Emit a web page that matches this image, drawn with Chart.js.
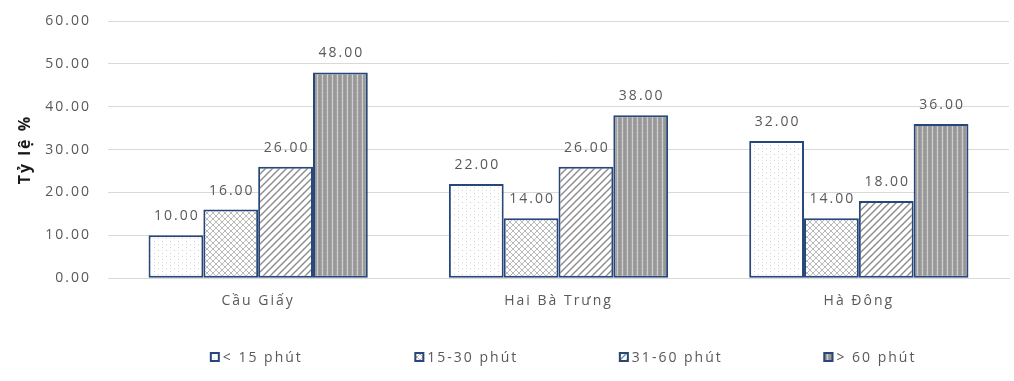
<!DOCTYPE html>
<html>
<head>
<meta charset="utf-8">
<script src="https://cdn.jsdelivr.net/npm/chart.js@4.4.1/dist/chart.umd.min.js"></script>
<style>
  html, body { margin: 0; padding: 0; background: #ffffff; }
  #wrap { width: 1014px; height: 381px; }
</style>
</head>
<body>
<div id="wrap"><canvas id="chart" width="1014" height="381"></canvas></div>
<script>
// Commute time shares by district (%)
const districts = ['Cầu Giấy', 'Hai Bà Trưng', 'Hà Đông'];
const seriesNames = ['< 15 phút', '15-30 phút', '31-60 phút', '> 60 phút'];
const under15 = [10, 22, 32];
const from15to30 = [16, 14, 14];
const from31to60 = [26, 26, 18];
const over60 = [48, 38, 36];
const yTickValues = [0, 10, 20, 30, 40, 50, 60];
const yAxisTitle = 'Tỷ lệ %';

const TEXT_FONT = '"Open Sans", "Noto Sans", sans-serif';
const TEXT_COLOR = '#595959';
const LETTER_SPACING = '2px';
const BAR_EDGE = '#27467a';

// ---- hatch fills -------------------------------------------------------
function makeTile(w, h, paint) {
  const c = document.createElement('canvas');
  c.width = w; c.height = h;
  const g = c.getContext('2d');
  g.fillStyle = '#ffffff';
  g.fillRect(0, 0, w, h);
  paint(g, w, h);
  return document.getElementById('chart').getContext('2d').createPattern(c, 'repeat');
}

// sparse dots
const dotFill = makeTile(8, 6, (g) => {
  g.fillStyle = '#cfcfcf';
  g.fillRect(2, 1, 1, 1);
  g.fillRect(6, 4, 1, 1);
  g.fillStyle = '#e6e6e6';
  g.fillRect(2, 4, 1, 1);
});

// diamond lattice
const latticeFill = makeTile(6, 6, (g) => {
  g.strokeStyle = '#b8b8b8';
  g.lineWidth = 1;
  g.beginPath();
  g.moveTo(0, 0); g.lineTo(6, 6);
  g.moveTo(6, 0); g.lineTo(0, 6);
  g.stroke();
});

// forward diagonal stripes
const diagonalFill = makeTile(7, 7, (g) => {
  g.strokeStyle = '#8a8a8a';
  g.lineWidth = 1.4;
  g.beginPath();
  g.moveTo(-1, 8); g.lineTo(8, -1);
  g.moveTo(-1, 1); g.lineTo(1, -1);
  g.moveTo(6, 8); g.lineTo(8, 6);
  g.stroke();
});

// vertical stripes
const verticalFill = makeTile(5, 4, (g) => {
  const cols = ['#999999', '#a3a3a3', '#d2d2d2', '#a0a0a0', '#969696'];
  cols.forEach((c, i) => { g.fillStyle = c; g.fillRect(i, 0, 1, 4); });
  g.fillStyle = '#c0c0c0';
  g.fillRect(2, 2, 1, 1);
});

const fills = [dotFill, latticeFill, diagonalFill, verticalFill];
const seriesValues = [under15, from15to30, from31to60, over60];

// ---- plugins -----------------------------------------------------------
const textSpacing = {
  id: 'textSpacing',
  beforeUpdate(chart) { chart.ctx.letterSpacing = LETTER_SPACING; },
  beforeDraw(chart) { chart.ctx.letterSpacing = LETTER_SPACING; }
};

const valueLabels = {
  id: 'valueLabels',
  afterDatasetsDraw(chart) {
    const ctx = chart.ctx;
    ctx.save();
    ctx.letterSpacing = LETTER_SPACING;
    ctx.font = '14px ' + TEXT_FONT;
    ctx.fillStyle = TEXT_COLOR;
    ctx.textAlign = 'center';
    ctx.textBaseline = 'alphabetic';
    chart.data.datasets.forEach((ds, i) => {
      chart.getDatasetMeta(i).data.forEach((bar, j) => {
        ctx.fillText(ds.data[j].toFixed(2), bar.x + 1, bar.y - 15);
      });
    });
    ctx.restore();
  }
};

const bottomLegend = {
  id: 'bottomLegend',
  afterDraw(chart) {
    const ctx = chart.ctx;
    const a = chart.chartArea;
    const y = chart.height - 24;
    const start = a.left + a.width * 0.113;
    const pitch = a.width * 0.227;
    ctx.save();
    ctx.letterSpacing = LETTER_SPACING;
    ctx.font = '14px ' + TEXT_FONT;
    ctx.textBaseline = 'middle';
    ctx.textAlign = 'left';
    chart.data.datasets.forEach((ds, i) => {
      const x = start + pitch * i;
      ctx.fillStyle = ds.backgroundColor;
      ctx.fillRect(x, y - 5, 10, 10);
      ctx.strokeStyle = BAR_EDGE;
      ctx.lineWidth = 2;
      ctx.strokeRect(x + 1, y - 4, 8, 8);
      ctx.fillStyle = TEXT_COLOR;
      ctx.fillText(ds.label, x + 13, y + 1);
    });
    ctx.restore();
  }
};

// ---- chart -------------------------------------------------------------
new Chart(document.getElementById('chart'), {
  type: 'bar',
  data: {
    labels: districts,
    datasets: seriesNames.map((name, i) => ({
      label: name,
      data: seriesValues[i],
      backgroundColor: fills[i],
      borderColor: BAR_EDGE,
      borderWidth: 2,
      borderSkipped: false,
      barPercentage: 1.0,
      categoryPercentage: 0.73
    }))
  },
  options: {
    responsive: false,
    animation: false,
    layout: { padding: { top: 21, right: 5, bottom: 58, left: 16 } },
    plugins: {
      legend: { display: false },
      tooltip: { enabled: false }
    },
    scales: {
      x: {
        grid: { display: false, drawTicks: false },
        border: { display: true, color: '#d9d9d9', width: 1 },
        ticks: {
          color: TEXT_COLOR,
          font: { family: TEXT_FONT, size: 14 },
          padding: 14
        }
      },
      y: {
        min: 0,
        max: 60,
        afterBuildTicks(scale) { scale.ticks = yTickValues.map(v => ({ value: v })); },
        afterFit(scale) {
          scale.width = 92;
          scale.paddingTop = 0;
          scale.paddingBottom = 0;
        },
        grid: { color: '#d9d9d9', lineWidth: 1, drawTicks: false },
        border: { display: false },
        ticks: {
          color: TEXT_COLOR,
          font: { family: TEXT_FONT, size: 14 },
          padding: 17,
          callback: (v) => Number(v).toFixed(2)
        },
        title: {
          display: true,
          text: yAxisTitle,
          color: '#1a1a1a',
          font: { family: TEXT_FONT, size: 16, weight: 'bold' },
          padding: { top: 0, bottom: 0 }
        }
      }
    }
  },
  plugins: [textSpacing, valueLabels, bottomLegend]
});
</script>
</body>
</html>
